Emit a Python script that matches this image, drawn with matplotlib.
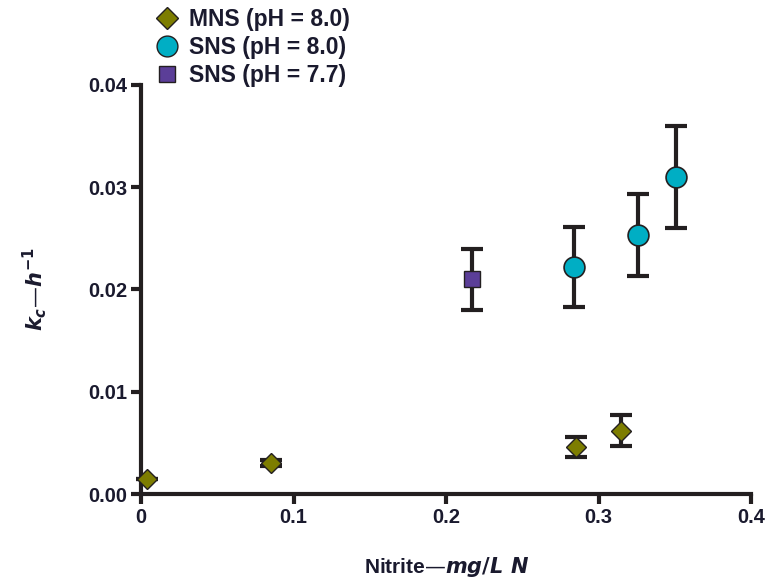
import numpy as np
import matplotlib.pyplot as plt
from matplotlib.lines import Line2D

plt.rcParams['font.family'] = ['Liberation Sans', 'DejaVu Sans']
plt.rcParams['font.weight'] = 'bold'

# MNS (pH = 8.0)
mns_x = [0.004, 0.085, 0.285, 0.315]
mns_y = [0.0015, 0.0030, 0.0046, 0.0062]
mns_err = [0.0, 0.0003, 0.0010, 0.0015]

# SNS (pH = 8.0)
sns8_x = [0.284, 0.326, 0.351]
sns8_y = [0.0222, 0.0253, 0.0310]
sns8_err = [0.0039, 0.0040, 0.0050]

# SNS (pH = 7.7)
sns77_x = [0.217]
sns77_y = [0.0210]
sns77_err = [0.0030]

txt = '#1a1a2e'

fig = plt.figure(figsize=(7.68, 5.79), dpi=100)
ax = fig.add_axes([0.1836, 0.1468, 0.7944, 0.7064])

eb = dict(fmt='none', ecolor='#231f20', elinewidth=3, capsize=8, capthick=3, zorder=2)
ax.errorbar(mns_x, mns_y, yerr=mns_err, **eb)
ax.errorbar(sns8_x, sns8_y, yerr=sns8_err, **eb)
ax.errorbar(sns77_x, sns77_y, yerr=sns77_err, **eb)

ax.plot(mns_x, mns_y, 'D', ms=10, mfc='#7d7d00', mec='#231f20', mew=1, ls='none', zorder=3)
ax.plot(sns8_x, sns8_y, 'o', ms=15, mfc='#00aec4', mec='#231f20', mew=1.2, ls='none', zorder=3)
ax.plot(sns77_x, sns77_y, 's', ms=11, mfc='#5b3e98', mec='#231f20', mew=1, ls='none', zorder=3)

ax.set_xlim(0, 0.4)
ax.set_ylim(0, 0.04)
ax.set_xticks([0, 0.1, 0.2, 0.3, 0.4])
ax.set_xticklabels(['0', '0.1', '0.2', '0.3', '0.4'])
ax.set_yticks([0, 0.01, 0.02, 0.03, 0.04])
ax.set_yticklabels(['0.00', '0.01', '0.02', '0.03', '0.04'])

for s in ['top', 'right']:
    ax.spines[s].set_visible(False)
for s in ['left', 'bottom']:
    ax.spines[s].set_linewidth(3)
    ax.spines[s].set_color('#231f20')
ax.tick_params(width=3, length=7, color='#231f20', labelsize=14.5, labelcolor=txt, pad=3)
for lab in ax.get_xticklabels() + ax.get_yticklabels():
    lab.set_fontweight('bold')
for a in ax.get_children():
    a.set_clip_on(False)

ax.set_xlabel(r'Nitrite—$\boldsymbol{mg/L\ N}$', fontsize=15, color=txt,
              fontweight='bold', labelpad=20)
ax.set_ylabel(r'$\boldsymbol{k_c}$—$\boldsymbol{h^{-1}}$', fontsize=15, color=txt,
              fontweight='bold', labelpad=28)

handles = [
    Line2D([], [], marker='D', ms=11, mfc='#7d7d00', mec='#231f20', ls='none'),
    Line2D([], [], marker='o', ms=15, mfc='#00aec4', mec='#231f20', ls='none'),
    Line2D([], [], marker='s', ms=12, mfc='#5b3e98', mec='#231f20', ls='none'),
]
labels = ['MNS (pH = 8.0)', 'SNS (pH = 8.0)', 'SNS (pH = 7.7)']
leg = fig.legend(handles, labels, loc='upper left', bbox_to_anchor=(0.173, 1.021),
                 frameon=False, fontsize=16.5, handletextpad=0.35, labelspacing=0.2,
                 handlelength=1.2)
for t in leg.get_texts():
    t.set_color(txt)
    t.set_fontweight('bold')

fig.savefig('out.png', dpi=100)
